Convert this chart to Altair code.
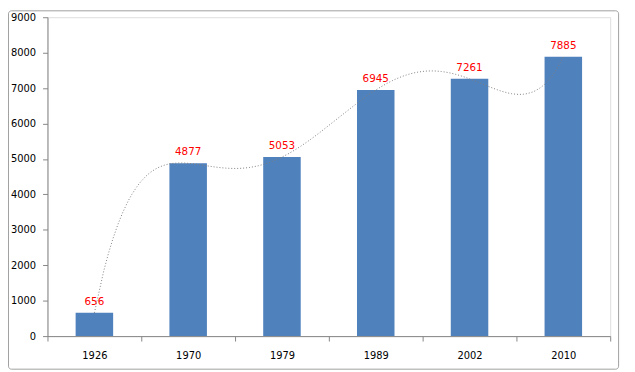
import altair as alt
import pandas as pd

years = ["1926", "1970", "1979", "1989", "2002", "2010"]
values = [656, 4877, 5053, 6945, 7261, 7885]

df = pd.DataFrame({"year": years, "value": values, "idx": list(range(1, len(years) + 1))})

FONT = "DejaVu Sans"

x = alt.X(
    "year:N",
    sort=years,
    title=None,
    scale=alt.Scale(paddingInner=0, paddingOuter=0),
    axis=alt.Axis(
        labelAngle=0,
        tickBand="extent",
        tickSize=5,
        labelPadding=10,
        domainColor="#868686",
        tickColor="#868686",
        labelFont=FONT,
        labelFontSize=10,
        labelColor="#000000",
    ),
)
y = alt.Y(
    "value:Q",
    title=None,
    scale=alt.Scale(domain=[0, 9000], nice=False),
    axis=alt.Axis(
        values=list(range(0, 9001, 1000)),
        format="d",
        grid=False,
        tickSize=5,
        labelPadding=7,
        domainColor="#868686",
        tickColor="#868686",
        labelFont=FONT,
        labelFontSize=10,
        labelColor="#000000",
    ),
)

base = alt.Chart(df)

bars = base.mark_bar(color="#4F81BD", width=alt.RelativeBandSize(0.4)).encode(x=x, y=y)

labels = base.mark_text(
    color="#FF0000",
    font=FONT,
    fontSize=10.5,
    baseline="bottom",
    dy=-6,
).encode(x=x, y=y, text="value:Q")

# polynomial (order 5) trendline, as in the original spreadsheet chart
trend = base.transform_regression(
    "idx", "value", method="poly", order=5
).mark_line(
    color="#7f7f7f",
    strokeDash=[1, 2],
    strokeWidth=1,
).encode(
    x=alt.X("idx:Q", scale=alt.Scale(domain=[0.5, 6.5], nice=False, zero=False), axis=None),
    y=y,
)

border = alt.Chart(pd.DataFrame({"a": [0]})).mark_rect(
    fill=None, stroke="#a0a0a0", strokeWidth=1, cornerRadius=3, clip=False
).encode(
    x=alt.value(-39.5), x2=alt.value(578.5), y=alt.value(-6.5), y2=alt.value(356.5)
)

chart = (
    alt.layer(border, alt.layer(bars, labels), trend)
    .resolve_scale(x="independent")
    .properties(
        width=570,
        height=323,
        padding={"left": 40, "top": 7, "right": 17, "bottom": 34},
        autosize=alt.AutoSizeParams(type="none"),
    )
    .configure_view(stroke=None)
    .configure(background="white")
)

chart.save("out.html", embed_options={"renderer": "svg", "actions": False})
